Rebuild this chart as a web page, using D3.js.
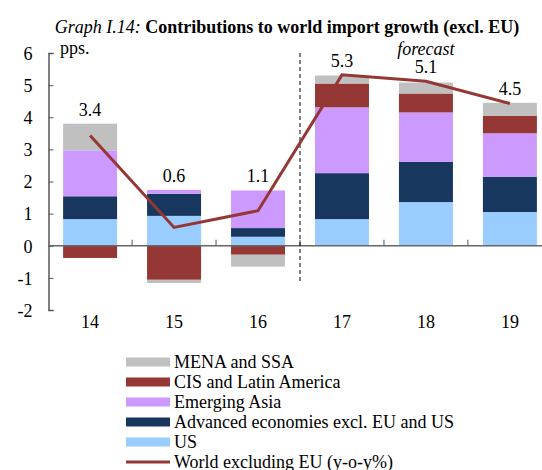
<html>
<head>
<meta charset="utf-8">
<script src="https://cdn.jsdelivr.net/npm/d3@7"></script>
<style>
body { margin:0; background:#fff; }
text { font-family: "Liberation Serif", "Times New Roman", serif; fill:#000; }
</style>
</head>
<body>
<div id="chart"></div>
<script>

// data
var years = ["14", "15", "16", "17", "18", "19"];
var seriesNames = ["US", "Advanced economies excl. EU and US", "Emerging Asia", "CIS and Latin America", "MENA and SSA"];
var us     = [0.83, 0.93, 0.28, 0.83, 1.36, 1.05];
var adv    = [0.71, 0.69, 0.27, 1.43, 1.25, 1.10];
var emAsia = [1.43, 0.12, 1.17, 2.05, 1.54, 1.35];
var cisLat = [-0.38, -1.06, -0.28, 0.74, 0.59, 0.55];
var mena   = [0.83, -0.10, -0.37, 0.25, 0.34, 0.40];
var world  = [3.43, 0.57, 1.09, 5.32, 5.12, 4.43];
var worldLabels = ["3.4", "0.6", "1.1", "5.3", "5.1", "4.5"];
var yTicks = [-2, -1, 0, 1, 2, 3, 4, 5, 6];
var lineName = "World excluding EU (y-o-y%)";

var colors = ["#99ccff", "#17375e", "#cc99ff", "#953735", "#c0c0c0"];
var lineColor = "#953735";
var serif = "'Liberation Serif', 'Times New Roman', serif";
var fs = "18px";

var width = 542, height = 470;
var svg = d3.select("#chart").append("svg").attr("width", width).attr("height", height);

var x = d3.scaleBand().domain(years).range([48, 552]).paddingInner(0.357).paddingOuter(0.18);
var y = d3.scaleLinear().domain([-2, 6]).range([310, 53]);

// table for stacking
var rows = years.map(function(yr, i) {
	return {year: yr, s0: us[i], s1: adv[i], s2: emAsia[i], s3: cisLat[i], s4: mena[i]};
});
var stack = d3.stack().keys(["s0", "s1", "s2", "s3", "s4"]).offset(d3.stackOffsetDiverging);
var layers = stack(rows);

// title
var title = svg.append("text").attr("x", 287).attr("y", 33).attr("text-anchor", "middle").style("font-size", fs);
title.append("tspan").style("font-style", "italic").text("Graph I.14: ");
title.append("tspan").style("font-weight", "bold").text("Contributions to world import growth (excl. EU)");

// bars
svg.append("g").selectAll("g").data(layers).join("g")
	.attr("fill", function(d, i) { return colors[i]; })
	.selectAll("rect").data(function(d) { return d; }).join("rect")
	.attr("x", function(d) { return x(d.data.year); })
	.attr("width", x.bandwidth())
	.attr("y", function(d) { return y(Math.max(d[0], d[1])); })
	.attr("height", function(d) { return Math.abs(y(d[0]) - y(d[1])); });

// y axis
var yAxis = svg.append("g").attr("transform", "translate(48.5,0)")
	.call(d3.axisLeft(y).tickValues(yTicks).tickSize(-5).tickPadding(16).tickFormat(function(d) { return String(d); }));
yAxis.select(".domain").attr("stroke", "#555").attr("stroke-width", 1.5);
yAxis.selectAll(".tick line").attr("stroke", "#555");
yAxis.selectAll("text").style("font-size", fs).style("font-family", serif).attr("dy", "0.35em");

// x axis at zero
svg.append("line").attr("x1", 48).attr("x2", width).attr("y1", y(0)).attr("y2", y(0))
	.attr("stroke", "#666").attr("stroke-width", 1.5);
var step = x.step();
svg.append("g").selectAll("line").data(years.slice(1)).join("line")
	.attr("x1", function(d) { return x(d) - (step - x.bandwidth()) / 2; })
	.attr("x2", function(d) { return x(d) - (step - x.bandwidth()) / 2; })
	.attr("y1", y(0)).attr("y2", y(0) - 6)
	.attr("stroke", "#555");

svg.append("g").selectAll("text").data(years).join("text")
	.attr("x", function(d) { return x(d) + x.bandwidth() / 2; })
	.attr("y", 328)
	.attr("text-anchor", "middle")
	.style("font-size", fs)
	.text(function(d) { return d; });

// pps.
svg.append("text").attr("x", 60).attr("y", 54).style("font-size", fs).text("pps.");

// forecast divider
var divX = x("17") - (step - x.bandwidth()) / 2;
svg.append("line").attr("x1", divX).attr("x2", divX).attr("y1", y(6)).attr("y2", y(-1.12))
	.attr("stroke", "#000").attr("stroke-dasharray", "4,3").attr("stroke-width", 1);
svg.append("text").attr("x", x("18") + x.bandwidth() / 2).attr("y", 55)
	.attr("text-anchor", "middle").style("font-size", fs).style("font-style", "italic").text("forecast");

// world line
var line = d3.line()
	.x(function(d, i) { return x(years[i]) + x.bandwidth() / 2; })
	.y(function(d) { return y(d); });
svg.append("path").datum(world).attr("d", line)
	.attr("fill", "none").attr("stroke", lineColor).attr("stroke-width", 3);

// value labels, just above the bar top or the line, whichever is higher
svg.append("g").selectAll("text").data(world).join("text")
	.attr("x", function(d, i) { return x(years[i]) + x.bandwidth() / 2; })
	.attr("y", function(d, i) {
		var top = d3.max(layers, function(l) { return Math.max(l[i][0], l[i][1]); });
		return y(Math.max(top, d)) - 8;
	})
	.attr("text-anchor", "middle")
	.style("font-size", fs)
	.text(function(d, i) { return worldLabels[i]; });

// legend
var legendItems = [4, 3, 2, 1, 0];
var lg = svg.append("g");
legendItems.forEach(function(k, j) {
	var cy = 362 + j * 20;
	lg.append("rect").attr("x", 126).attr("y", cy - 4.5).attr("width", 44).attr("height", 9).attr("fill", colors[k]);
	lg.append("text").attr("x", 174).attr("y", cy + 6).style("font-size", fs).text(seriesNames[k]);
});
var ly = 362 + 5 * 20;
lg.append("line").attr("x1", 126).attr("x2", 170).attr("y1", ly).attr("y2", ly)
	.attr("stroke", lineColor).attr("stroke-width", 3);
lg.append("text").attr("x", 174).attr("y", ly + 6).style("font-size", fs).text(lineName);

</script>
</body>
</html>
